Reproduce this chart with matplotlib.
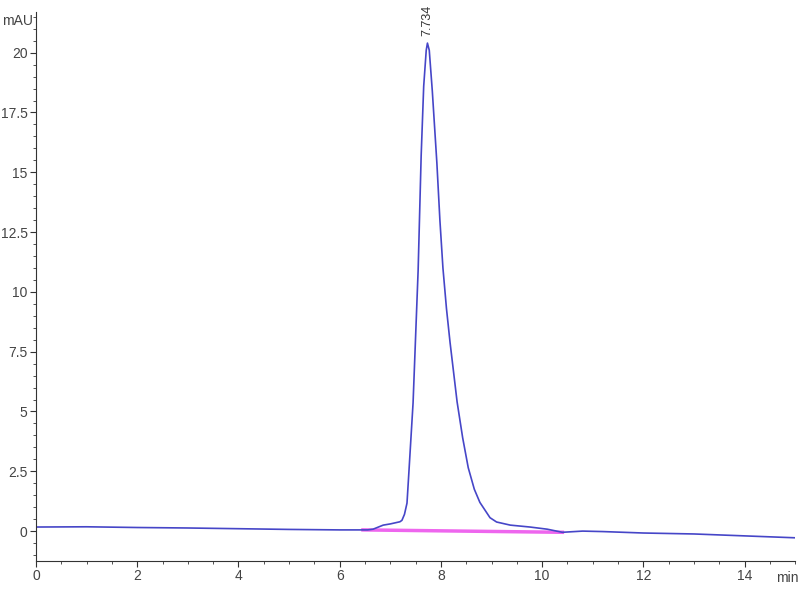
import matplotlib.pyplot as plt
from matplotlib.ticker import MultipleLocator

plt.rcParams['font.family'] = ['Liberation Sans Narrow', 'Liberation Sans', 'DejaVu Sans']

time = [0, 1, 2, 3, 4, 5, 6, 6.4, 6.55, 6.66, 6.86, 7.0, 7.19, 7.23, 7.28, 7.33, 7.37,
        7.45, 7.55, 7.61, 7.66, 7.71, 7.734, 7.77, 7.83, 7.92, 7.98, 8.04, 8.11, 8.18, 8.32, 8.43,
        8.54, 8.66, 8.77, 8.97, 9.1, 9.37, 9.76, 10.1, 10.4, 10.8, 11.2, 12, 13, 14, 15]
signal = [0.17, 0.18, 0.15, 0.13, 0.1, 0.07, 0.05, 0.05, 0.05, 0.08, 0.25, 0.3, 0.39, 0.45, 0.7, 1.17, 2.55,
          5.36, 10.9, 15.7, 18.6, 20.1, 20.4, 20.1, 18.4, 15.4, 13.0, 11.0, 9.3, 7.9, 5.4, 3.9,
          2.65, 1.75, 1.2, 0.56, 0.38, 0.25, 0.17, 0.08, -0.05, 0.0, -0.02, -0.08, -0.12, -0.2, -0.28]

baseline_t = [6.46, 10.4]
baseline_v = [0.05, -0.05]

peak_rt = 7.734
peak_h = 20.4

fig = plt.figure(figsize=(8, 6), dpi=100)
ax = fig.add_axes([0.045, 0.065, 0.949, 0.915])

ax.plot(baseline_t, baseline_v, color="#ee66ee", lw=2.5, zorder=1)
ax.plot(time, signal, color="#4646c8", lw=1.2, zorder=2)
ax.text(peak_rt, peak_h + 0.3, "7.734", rotation=90, ha="center", va="bottom",
        fontsize=9, color="#333333")

ax.set_xlim(0, 15)
ax.set_ylim(-1.25, 21.7)
ax.xaxis.set_major_locator(MultipleLocator(2))
ax.xaxis.set_minor_locator(MultipleLocator(0.5))
ax.yaxis.set_minor_locator(MultipleLocator(0.5))
ax.set_yticks([0, 2.5, 5, 7.5, 10, 12.5, 15, 17.5, 20])
ax.set_yticklabels(["0", "2.5", "5", "7.5", "10", "12.5", "15", "17.5", "20"])

for s in ["top", "right"]:
    ax.spines[s].set_visible(False)
for s in ["left", "bottom"]:
    ax.spines[s].set_color("#333333")
ax.tick_params(which="major", length=4, pad=2, labelsize=10, labelcolor="#444444", color="#333333")
ax.tick_params(which="minor", length=2.5, color="#333333")

fig.text(0.022, 0.965, "mAU", fontsize=10, color="#444444", ha="center", va="center")
fig.text(0.984, 0.037, "min", fontsize=10, color="#444444", ha="center", va="center")

fig.savefig("out.png")
